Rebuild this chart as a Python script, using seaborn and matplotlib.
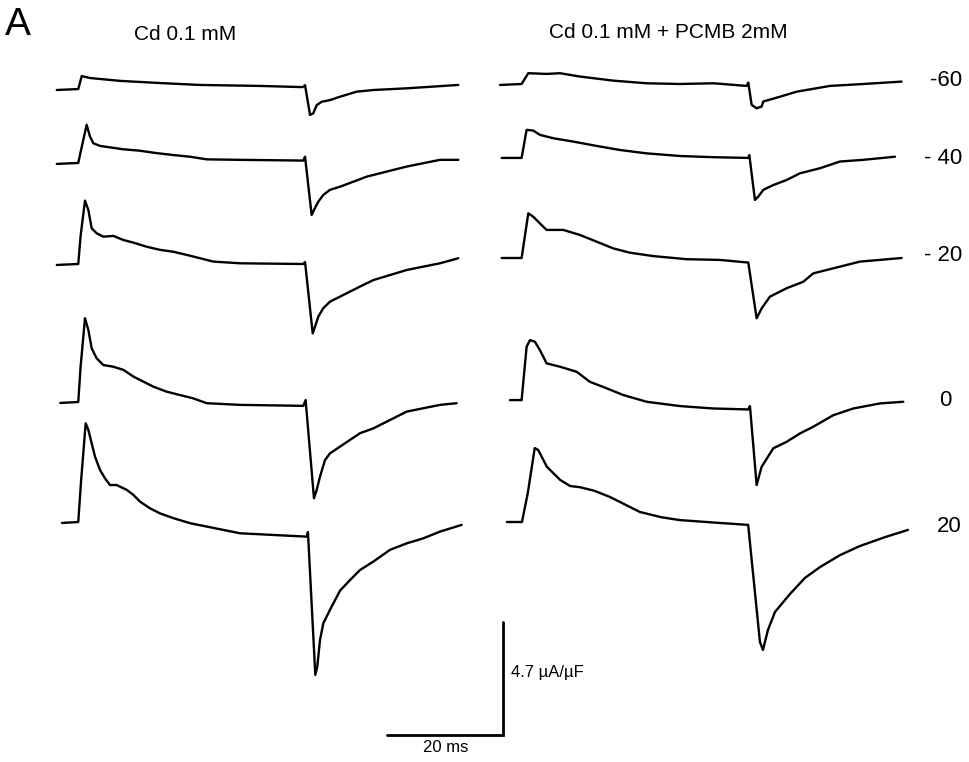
import numpy as np
import pandas as pd
import seaborn as sns
import matplotlib.pyplot as plt

# time (ms from step onset) and current (uA/uF relative to holding level)
# left panel: Cd 0.1 mM
t_left = {
    '-60': [-4, -0.3, 0.3, 1.7, 6.9, 13.8, 20.7, 31, 38.4, 38.8, 39.66, 40.22, 40.81, 41.67, 43.1, 44.83,
            47.7, 50.57, 56.33, 65.23],
    '-40': [-4, -0.3, 0.2, 1.15, 1.72, 2.3, 3.45, 5.17, 7.47, 10.34, 13.22, 16.1, 18.97, 21.84, 27.59, 38.5,
            38.8, 39.94, 40.34, 41.09, 41.95, 43.1, 44.83, 47.13, 49.43, 51.72, 54.02, 56.33, 59.19, 62.07,
            65.23],
    '-20': [-4, -0.3, 0.1, 0.86, 1.44, 2.01, 2.87, 4.02, 5.75, 7.47, 9.2, 11.49, 13.79, 16.1, 18.39, 20.69,
            22.99, 27.59, 38.5, 38.8, 40.12, 40.52, 41.09, 41.95, 43.1, 44.83, 46.55, 48.28, 50.57, 53.45,
            56.33, 59.19, 62.07, 65.23],
    '0':   [-3.4, -0.3, 0.1, 0.86, 1.44, 2.01, 2.87, 4.02, 5.75, 7.47, 9.2, 10.92, 12.64, 14.94, 17.24, 19.54,
            21.84, 27.59, 38.5, 38.9, 40.34, 40.8, 41.38, 42.24, 43.1, 44.83, 46.55, 48.28, 50.57, 53.45,
            56.33, 59.19, 62.07, 64.94],
    '20':  [-3.1, -0.3, 0.2, 0.98, 1.44, 2.01, 2.59, 3.45, 4.31, 5.17, 6.32, 8.05, 9.2, 10.34, 12.07, 13.79,
            16.1, 18.97, 21.84, 24.71, 27.59, 33.33, 39.08, 39.3, 40.57, 40.91, 41.38, 41.95, 43.1, 44.83,
            46.55, 48.28, 50.57, 53.45, 56.33, 59.19, 62.07, 65.81],
}
i_left = {
    '-60': [0, 0.04, 0.58, 0.5, 0.38, 0.29, 0.21, 0.17, 0.12, 0.2, -1.04, -0.97, -0.63, -0.49, -0.42, -0.28,
            -0.07, 0, 0.07, 0.21],
    '-40': [0, 0.04, 0.6, 1.63, 1.14, 0.86, 0.75, 0.69, 0.61, 0.55, 0.45, 0.37, 0.3, 0.19, 0.17, 0.14,
            0.3, -2.13, -1.92, -1.57, -1.29, -1.08, -0.95, -0.74, -0.53, -0.39, -0.25, -0.11, 0.03, 0.17,
            0.17],
    '-20': [0, 0.04, 1.2, 2.68, 2.29, 1.53, 1.32, 1.18, 1.21, 1.04, 0.93, 0.76, 0.63, 0.55, 0.42, 0.28,
            0.14, 0.07, 0.04, 0.12, -2.85, -2.57, -2.15, -1.8, -1.53, -1.32, -1.11, -0.9, -0.63, -0.42,
            -0.21, -0.07, 0.07, 0.28],
    '0':   [0, 0.04, 1.5, 3.53, 3.04, 2.28, 1.86, 1.58, 1.51, 1.38, 1.1, 0.89, 0.68, 0.47, 0.33, 0.19,
            -0.01, -0.08, -0.12, 0.12, -3.97, -3.63, -3.07, -2.38, -2.1, -1.82, -1.54, -1.26, -1.06, -0.71,
            -0.36, -0.22, -0.08, -0.01],
    '20':  [0, 0.04, 1.8, 4.15, 3.88, 3.32, 2.76, 2.21, 1.86, 1.58, 1.58, 1.38, 1.17, 0.89, 0.61, 0.4,
            0.2, -0.01, -0.15, -0.29, -0.43, -0.5, -0.57, -0.38, -6.33, -5.99, -4.88, -4.18, -3.62, -2.82,
            -2.38, -1.96, -1.61, -1.12, -0.85, -0.64, -0.36, -0.08],
}

# right panel: Cd 0.1 mM + PCMB 2 mM
t_right = {
    '-60': [-3.79, -0.06, 1.09, 4.25, 6.55, 10, 15.75, 21.5, 27.24, 32.99, 38.74, 39.02, 39.6, 40.46, 41.32,
            41.61, 44.48, 47.36, 53.1, 58.85, 65.46],
    '-40': [-3.5, -0.06, 0.8, 1.95, 3.1, 5.4, 8.85, 12.87, 16.9, 21.5, 27.24, 32.99, 39.02, 39.2, 40.17,
            40.75, 41.61, 43.33, 45.63, 47.93, 51.38, 54.83, 58.85, 64.31],
    '-20': [-3.5, -0.06, 1.09, 1.95, 3.1, 4.25, 7.12, 10, 12.87, 15.75, 18.62, 22.64, 28.39, 34.14, 39.02,
            40.46, 41.32, 42.76, 45.63, 48.5, 50.23, 53.68, 58.28, 65.46],
    '0':   [-2.07, -0.06, 0.8, 1.38, 2.24, 3.1, 4.25, 6.55, 9.43, 11.72, 14.6, 17.47, 21.5, 27.24, 32.99,
            39.02, 39.31, 40.46, 41.32, 43.33, 45.63, 47.93, 50.23, 53.68, 57.13, 61.72, 65.75],
    '20':  [-2.6, 0, 1.0, 2.2, 2.8, 4.3, 6.6, 8.3, 10, 12.5, 15.2, 18, 20.3, 24, 27.2, 34.1, 39, 41.03,
            41.55, 42.41, 43.62, 46.21, 48.79, 51.38, 54.83, 58.28, 62.59, 66.55],
}
i_right = {
    '-60': [0, 0.04, 0.49, 0.46, 0.49, 0.35, 0.18, 0.07, 0.04, 0.07, -0.04, 0.1, -0.83, -0.97, -0.9,
            -0.69, -0.49, -0.28, -0.04, 0.04, 0.14],
    '-40': [0, 0, 1.17, 1.14, 0.96, 0.82, 0.68, 0.5, 0.33, 0.19, 0.08, 0.03, 0, 0.12, -1.75, -1.61,
            -1.33, -1.13, -0.92, -0.64, -0.43, -0.15, -0.08, 0.05],
    '-20': [0, 0, 1.86, 1.72, 1.44, 1.17, 1.17, 0.96, 0.68, 0.4, 0.22, 0.08, -0.05, -0.08, -0.19, -2.51,
            -2.1, -1.61, -1.26, -0.99, -0.64, -0.43, -0.15, 0],
    '0':   [0, 0, 2.22, 2.5, 2.43, 2.08, 1.53, 1.39, 1.18, 0.76, 0.49, 0.21, -0.07, -0.25, -0.35, -0.39,
            -0.25, -3.54, -2.78, -2.01, -1.74, -1.39, -1.11, -0.63, -0.35, -0.14, -0.07],
    '20':  [0, 0, 1.2, 3.08, 3.0, 2.3, 1.75, 1.5, 1.45, 1.3, 1.04, 0.7, 0.42, 0.2, 0.08, -0.04, -0.12,
            -5.0, -5.33, -4.5, -3.75, -3.0, -2.33, -1.88, -1.38, -1.0, -0.63, -0.33],
}

voltages = ['-60', '-40', '-20', '0', '20']
volt_labels = ['-60', '- 40', '- 20', '0', '20']

# vertical position of each trace's holding level (uA/uF below top edge)
base_left = [-3.75, -6.83, -11.04, -16.79, -21.79]
base_right = [-3.54, -6.58, -10.75, -16.67, -21.75]
right_shift = 76.2  # ms, horizontal offset of right panel

# scale bars
bar_ms = 20
bar_cur = 4.7

sns.set_theme(style='white')
plt.rcParams['font.family'] = ['Liberation Sans', 'DejaVu Sans']
plt.rcParams['text.color'] = 'black'

fig = plt.figure(figsize=(9.69, 7.62), dpi=100)
ax = fig.add_axes([0, 0, 1, 1])
ax.set_xlim(-80 / 5.8, -80 / 5.8 + 969 / 5.8)
ax.set_ylim(-762 / 24, 0)
ax.axis('off')

rows = []
for k, v in enumerate(voltages):
    for t, c in zip(t_left[v], i_left[v]):
        rows.append({'t': t, 'y': c + base_left[k], 'trace': 'L' + v})
    for t, c in zip(t_right[v], i_right[v]):
        rows.append({'t': t + right_shift, 'y': c + base_right[k], 'trace': 'R' + v})
df = pd.DataFrame(rows)

for name, d in df.groupby('trace'):
    sns.lineplot(x='t', y='y', data=d, ax=ax, color='black', linewidth=1.7,
                 sort=False, estimator=None, legend=False)

# scale bar
bx = (503 - 80) / 5.8
by = -735 / 24
ax.plot([bx - bar_ms, bx, bx], [by, by, by + bar_cur], color='black', linewidth=2.0,
        solid_joinstyle='miter')

fig.text(5 / 969, 1 - 25 / 762, 'A', fontsize=28, va='center', ha='left')
fig.text(185 / 969, 1 - 35 / 762, 'Cd 0.1 mM', fontsize=15, va='center', ha='center')
fig.text(668 / 969, 1 - 32 / 762, 'Cd 0.1 mM + PCMB 2mM', fontsize=15, va='center', ha='center')

label_pos = [(962, 80, 'right'), (962, 158, 'right'), (962, 255, 'right'), (945, 401, 'center'),
             (962, 527, 'right')]
for lab, (px, py, al) in zip(volt_labels, label_pos):
    fig.text(px / 969, 1 - py / 762, lab, fontsize=16, va='center', ha=al)

fig.text(511 / 969, 1 - 672 / 762, '4.7 µA/µF', fontsize=12, va='center', ha='left')
fig.text(446 / 969, 1 - 748 / 762, '20 ms', fontsize=12, va='center', ha='center')

plt.savefig('out.png', dpi=100)
